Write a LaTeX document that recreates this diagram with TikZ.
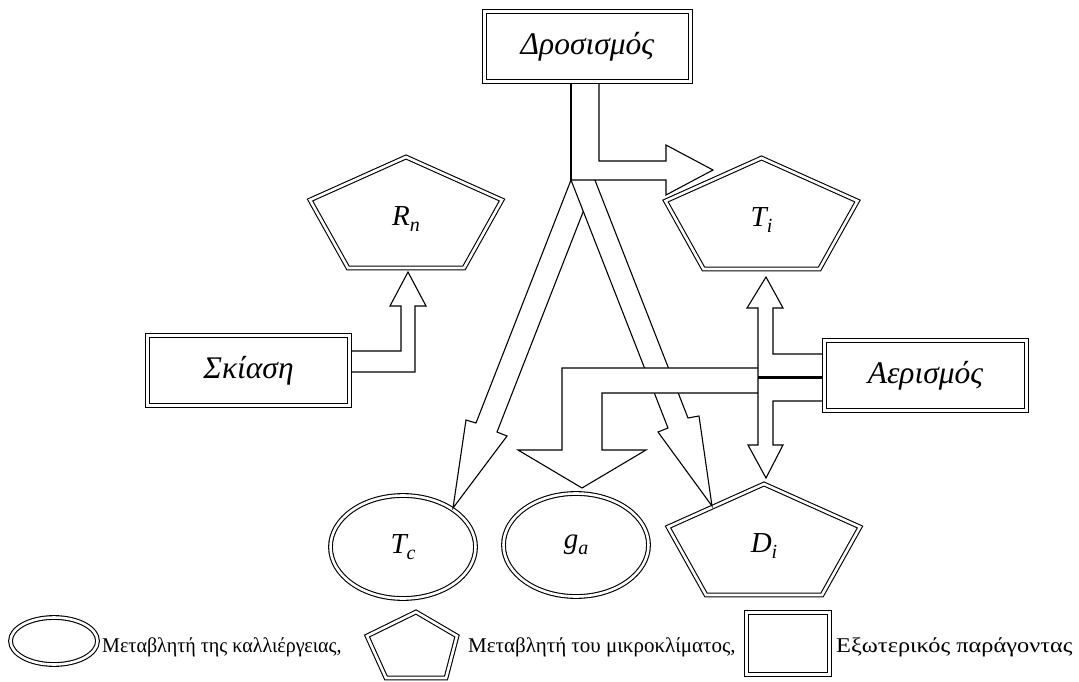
\documentclass[tikz,border=0pt]{standalone}
\usepackage{fontspec}
\setmainfont{Liberation Serif}
\usetikzlibrary{shapes.geometric}
\newcommand\vlab[2]{#1\raisebox{-0.2em}{\fontsize{20}{20}\selectfont #2}}
\newcommand\pent[4]{%
  \draw[dbl] (#2,#3) -- (#2+96,#3+43) -- (#2+58,#3+111) -- (#2-58,#3+111) -- (#2-96,#3+43) -- cycle;
  \node[lbl] (#1) at (#2,#3+62) {#4};}
\tikzset{
  dbl/.style={draw, double, double distance=2.6pt, line width=1.1pt, line join=miter},
  extbox/.style={dbl, rectangle, minimum height=70pt, inner sep=0pt, font=\fontsize{31.5}{31.5}\selectfont\itshape},
  varell/.style={dbl, ellipse, minimum width=145pt, minimum height=103pt, inner sep=0pt, font=\fontsize{29}{29}\selectfont\itshape},
  lbl/.style={inner sep=0pt, font=\fontsize{29}{29}\selectfont\itshape},
  blk/.style={draw, line width=1.1pt, line join=miter},
  legtxt/.style={anchor=base west, inner sep=0pt, font=\fontsize{21}{21}\selectfont},
}
\begin{document}
\begin{tikzpicture}[x=1pt,y=-1pt]
\useasboundingbox (0,0) rectangle (1079,682);

% external factor boxes
\node[extbox, minimum width=206pt] (dros) at (587.5,46.5) {Δροσισμός};
\node[extbox, minimum width=202pt] (skia) at (248.5,370.5) {Σκίαση};
\node[extbox, minimum width=202pt] (aer) at (925.5,375.5) {Αερισμός};

% microclimate pentagons
\pent{Rn}{406}{157}{\vlab{R}{n}}
\pent{Ti}{761.5}{158}{\vlab{T}{i}}
\pent{Di}{764}{484}{\vlab{D}{i}}

% crop variables
\node[varell] (Tc) at (403,547) {\vlab{T}{c}};
\node[varell] (ga) at (576,545) {\vlab{g}{a}};

% Drosismos arrows
\draw[blk] (571,84) -- (571,180);
\draw[blk] (599,84) -- (599,161) -- (666,161) -- (666,145) -- (713,170) -- (666,195) -- (666,180) -- (571,180);
\draw[blk] (571,180) -- (668,428) -- (658,432) -- (712,506) -- (699,416) -- (688,418) -- (594.9,180);
\draw[blk] (571,180) -- (476,423) -- (466,420) -- (453,508) -- (507,436) -- (497,432) -- (583.3,211.4);

% Aerismos to g_a (occludes the D_i arrow)
\draw[blk, fill=white] (758,368) -- (562,368) -- (562,450) -- (518,450) -- (582,488) -- (646,450) -- (602,450) -- (602,393) -- (758,393);

% Aerismos to T_i and D_i
\draw[blk] (822,354) -- (773,354) -- (773,308) -- (783,308) -- (766,277) -- (747,308) -- (758,308)
  -- (758,445) -- (748,445) -- (766,478) -- (783,445) -- (773,445) -- (773,401) -- (822,401);
\draw[line width=3pt] (758,377) -- (822,377);

% Skiasi to R_n
\draw[blk] (352,351) -- (401,351) -- (401,306) -- (390,306) -- (408,272) -- (426,306) -- (415,306) -- (415,372) -- (352,372);

% legend
\node[dbl, ellipse, minimum width=87pt, minimum height=47pt, inner sep=0pt] (lell) at (54,641) {};
\node[legtxt] (l1) at (102,652) {\scalebox{0.955}[1]{Μεταβλητή της καλλιέργειας,}};
\draw[dbl] (416,612) -- (457,636) -- (446,678) -- (386,678) -- (367,636) -- cycle;
\node[legtxt] (l2) at (468,652) {Μεταβλητή του μικροκλίματος,};
\node[dbl, rectangle, minimum width=83pt, minimum height=62pt, inner sep=0pt] (lbox) at (788,643.5) {};
\node[legtxt] (l3) at (836,652) {\scalebox{1.16}[1]{Εξωτερικός παράγοντας}};
\end{tikzpicture}
\end{document}
